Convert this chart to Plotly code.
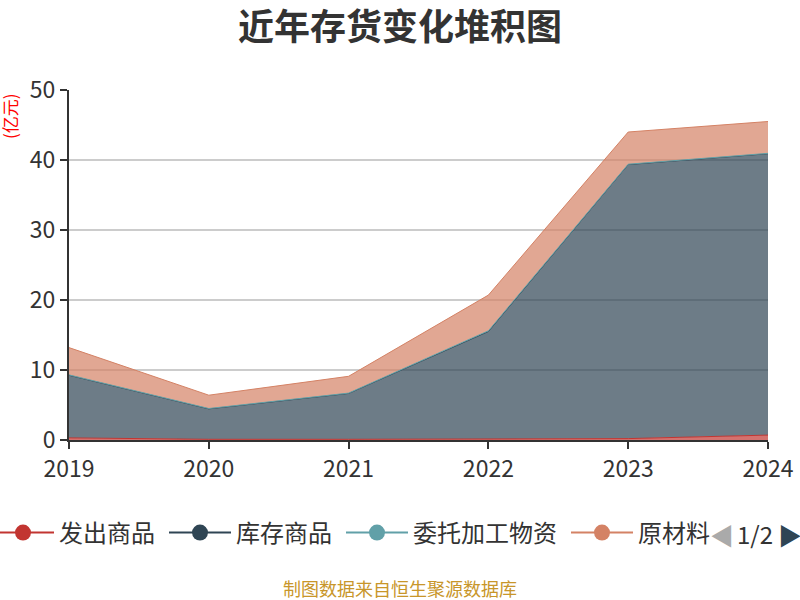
import plotly.graph_objects as go

years = [2019, 2020, 2021, 2022, 2023, 2024]
names = ["发出商品", "库存商品", "委托加工物资", "原材料"]
colors = ["#c23531", "#2f4554", "#61a0a8", "#d48265"]
fills = ["rgba(194,53,49,0.7)", "rgba(47,69,84,0.7)", "rgba(97,160,168,0.7)", "rgba(212,130,101,0.7)"]

# 亿元
fachu = [0.3, 0.1, 0.1, 0.1, 0.2, 0.7]
kucun = [8.95, 4.35, 6.55, 15.4, 39.15, 40.2]
weituo = [0.05, 0.05, 0.05, 0.1, 0.05, 0.05]
yuancailiao = [3.9, 1.9, 2.4, 5.1, 4.6, 4.55]
series = [fachu, kucun, weituo, yuancailiao]

font = "Noto Sans CJK SC"

# plot area in pixels, used to place the texts around it
L, R, T, B = 69, 768, 90, 440
W, H = R - L, B - T


def px_x(x):
    return (x - L) / W


def px_y(y):
    return (B - y) / H


def note(text, x, y, size, color, angle=0):
    return dict(text=text, x=px_x(x), y=px_y(y), xref="paper", yref="paper",
                xanchor="center", yanchor="middle", showarrow=False,
                textangle=angle, font=dict(size=size, color=color, family=font))


fig = go.Figure()
for i, (name, vals, c, f) in enumerate(zip(names, series, colors, fills)):
    fig.add_trace(go.Scatter(
        x=years, y=vals, name=name, stackgroup="one", mode="lines",
        line=dict(color=c, width=1), fillcolor=f, showlegend=False,
        legendgroup=name, hoverinfo="skip",
    ))
    # legend entry with the circle symbol (small space to widen the items)
    label = name if i == len(names) - 1 else name + "\u2006"
    fig.add_trace(go.Scatter(
        x=[None], y=[None], name=label, mode="lines+markers",
        line=dict(color=c, width=2), marker=dict(color=c, size=21),
        legendgroup=name,
    ))

fig.update_layout(
    width=800, height=600,
    margin=dict(l=L, r=800 - R, t=T, b=600 - B, autoexpand=False),
    paper_bgcolor="white", plot_bgcolor="white",
    font=dict(family=font, color="#333"),
    title=dict(text="<b>近年存货变化堆积图</b>", x=0.5, xanchor="center",
               y=1 - 27 / 600, yanchor="middle",
               font=dict(size=36, color="#333", family=font)),
    xaxis=dict(range=[2019, 2024], tickvals=years, ticktext=[str(y) for y in years],
               showline=True, linecolor="#333", linewidth=2, ticks="outside",
               ticklen=7, tickwidth=2, tickcolor="#333", showgrid=False,
               zeroline=False, automargin=False,
               tickfont=dict(size=23, color="#333")),
    yaxis=dict(range=[0, 50], tickvals=[0, 10, 20, 30, 40, 50],
               showline=True, linecolor="#333", linewidth=2, ticks="outside",
               ticklen=7, tickwidth=2, tickcolor="#333", showgrid=True,
               gridcolor="#ccc", gridwidth=2, zeroline=False, automargin=False,
               tickfont=dict(size=23, color="#333")),
    legend=dict(orientation="h", x=px_x(-13), xanchor="left", y=px_y(533),
                yanchor="middle", font=dict(size=24, color="#333"),
                itemsizing="trace", itemwidth=62, bgcolor="rgba(0,0,0,0)"),
    showlegend=True,
    annotations=[
        note("(亿元)", 9, 116, 17, "red", angle=-90),
        note("制图数据来自恒生聚源数据库", 400, 588, 18, "#c8962a"),
        note("◀", 722, 534, 24, "#aaa"),
        note("1/2", 755, 533, 24, "#333"),
        note("▶", 790, 534, 24, "#2f4554"),
    ],
)

fig.write_html("out.html", config={"displayModeBar": False},
               post_script="document.body.style.margin='0';")
